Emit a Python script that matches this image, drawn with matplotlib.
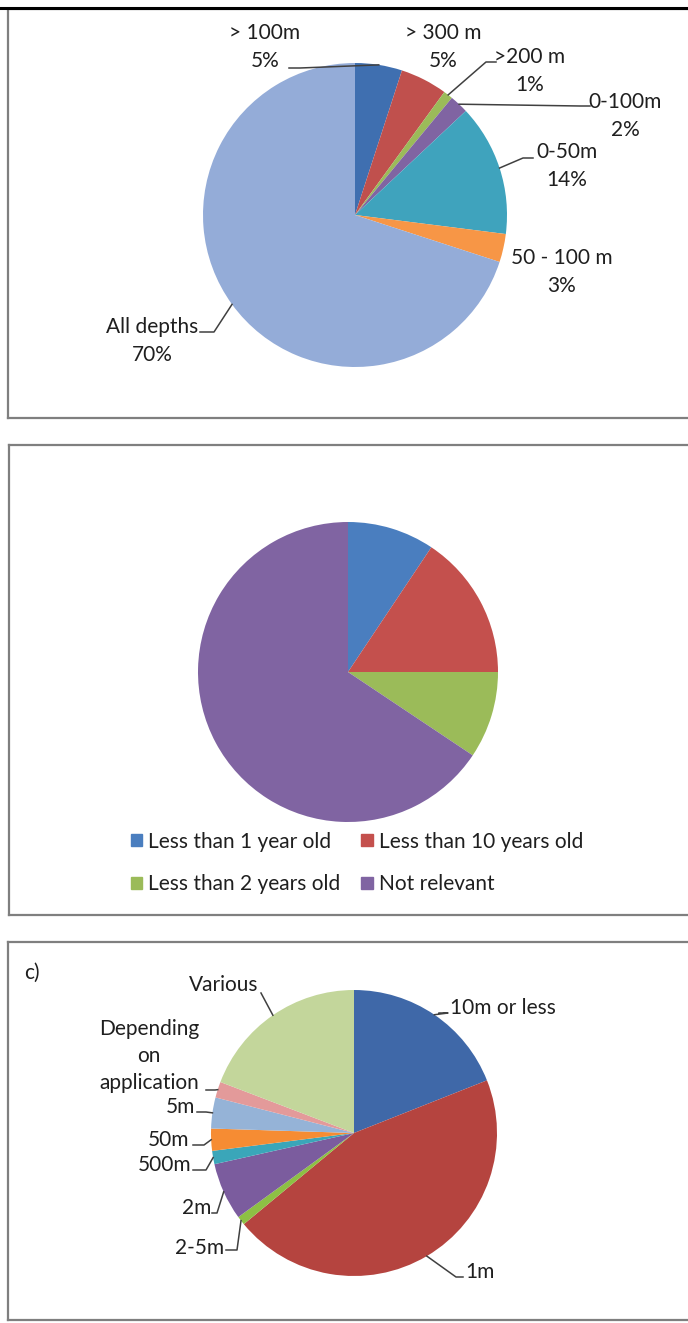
import matplotlib.pyplot as plt
from matplotlib.patches import Patch
import numpy as np

plt.rcParams['font.family'] = ['Lato', 'DejaVu Sans']

W, H = 688, 1323
TXT = '#1F1F1F'

# a) depth of data
depth_labels = ['> 100m', '> 300 m', '>200 m', '0-100m', '0-50m', '50 - 100 m', 'All depths']
depth_pct = [5, 5, 1, 2, 14, 3, 70]
depth_colors = ['#3F6FB0', '#C0504D', '#9BBB59', '#8064A2', '#3FA3BD', '#F79646', '#94ACD8']

# b) age of data
age_labels = ['Less than 1 year old', 'Less than 10 years old', 'Less than 2 years old', 'Not relevant']
age_counts = [3, 5, 3, 21]
age_colors = ['#4A7EBF', '#C4504D', '#9BBB59', '#8064A2']

# c) resolution
res_labels = ['10m or less', '1m', '2-5m', '2m', '500m', '50m', '5m',
              'Depending\non\napplication', 'Various']
res_share = [19, 45, 1, 6.5, 1.5, 2.5, 3.5, 1.8, 19.2]
res_colors = ['#3F68A8', '#B5443F', '#8DC044', '#7B5C9E', '#3AA6B9', '#F68C33',
              '#95B3D7', '#E39A9A', '#C3D69B']

fig = plt.figure(figsize=(W / 100, H / 100), dpi=100)
fig.add_artist(plt.Line2D([0, 1], [1 - 7.5 / H, 1 - 7.5 / H], color='black', lw=2.2))


def panel(box, center, r, values, colors):
    x0, y0, x1, y1 = box
    cx, cy = center
    ax = fig.add_axes([x0 / W, 1 - y1 / H, (x1 - x0) / W, (y1 - y0) / H])
    wedges, _ = ax.pie(values, colors=colors, startangle=90, counterclock=False,
                       radius=1, wedgeprops=dict(linewidth=0), frame=True)
    ax.set_xlim((x0 - cx) / r, (x1 - cx) / r)
    ax.set_ylim((cy - y1) / r, (cy - y0) / r)
    ax.set_aspect('auto')
    ax.set_xticks([])
    ax.set_yticks([])
    for s in ax.spines.values():
        s.set_color('#7F7F7F')
        s.set_linewidth(1.6)

    def px(x, y):
        return (x - cx) / r, (cy - y) / r
    return ax, wedges, px


def leader(ax, px, w, pts):
    t = np.deg2rad((w.theta1 + w.theta2) / 2)
    xs = [px(*p)[0] for p in pts] + [np.cos(t)]
    ys = [px(*p)[1] for p in pts] + [np.sin(t)]
    ax.plot(xs, ys, color='#404040', lw=1.1)


FS = 15
LS = 1.45

# ---- a)
ax1, w1, px1 = panel((8, 9, 692, 418), (355, 215), 152, depth_pct, depth_colors)
pos1 = [(265, 47), (443, 47), (530, 71), (625, 116), (567, 166), (562, 272), (152, 341)]
for lab, p, v in zip(depth_labels, pos1, depth_pct):
    ax1.text(*px1(*p), f'{lab}\n{v}%', ha='center', va='center', fontsize=FS,
             color=TXT, linespacing=LS)
leader(ax1, px1, w1[0], [(289, 68), (300, 68)])
leader(ax1, px1, w1[2], [(496, 62), (486, 62)])
leader(ax1, px1, w1[3], [(590, 106), (580, 106)])
leader(ax1, px1, w1[4], [(533, 158), (523, 158)])
leader(ax1, px1, w1[6], [(200, 332), (214, 332)])

# ---- b)
ax2, w2, px2 = panel((9, 445, 692, 915), (348, 672), 150, age_counts, age_colors)
order = [0, 2, 1, 3]
handles = [Patch(color=age_colors[i], label=age_labels[i]) for i in order]
ax2.legend(handles=handles, ncol=2, loc='center', frameon=False,
           bbox_to_anchor=(px2(357, 863)), bbox_transform=ax2.transData,
           fontsize=FS, handlelength=0.55, handleheight=0.55, handletextpad=0.3,
           columnspacing=1.0, labelspacing=1.1, labelcolor=TXT)

# ---- c)
ax3, w3, px3 = panel((8, 942, 692, 1320), (354, 1133), 143, res_share, res_colors)
ax3.text(*px3(24, 973), 'c)', ha='left', va='center', fontsize=FS, color=TXT)
pos3 = [(450, 1008, 'left'), (465, 1272, 'left'), (224, 1248, 'right'),
        (211, 1208, 'right'), (191, 1165, 'right'), (189, 1140, 'right'),
        (195, 1107, 'right'), (149, 1056, 'center'), (224, 985, 'center')]
for lab, (x, y, ha) in zip(res_labels, pos3):
    ax3.text(*px3(x, y), lab, ha=ha, va='center', fontsize=FS, color=TXT,
             linespacing=LS)
leader(ax3, px3, w3[0], [(439, 1013), (448, 1013)])
leader(ax3, px3, w3[1], [(463, 1277), (456, 1277)])
leader(ax3, px3, w3[2], [(226, 1250), (237, 1250)])
leader(ax3, px3, w3[3], [(212, 1213), (217, 1213)])
leader(ax3, px3, w3[4], [(193, 1170), (206, 1170)])
leader(ax3, px3, w3[5], [(193, 1145), (204, 1145)])
leader(ax3, px3, w3[6], [(197, 1112), (206, 1112)])
leader(ax3, px3, w3[7], [(206, 1090), (215, 1090)])
leader(ax3, px3, w3[8], [(261, 993)])

fig.savefig('out.png', dpi=100)
